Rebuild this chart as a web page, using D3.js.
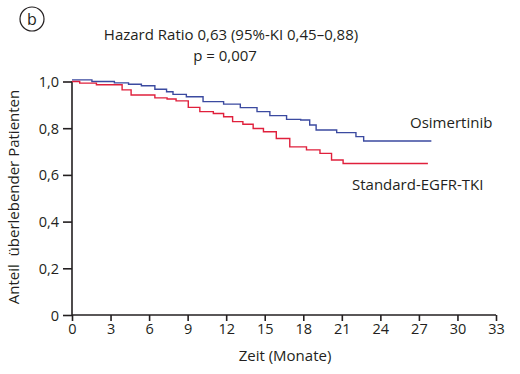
<!DOCTYPE html>
<html>
  <head>
    <meta charset="utf-8">
    <script src="https://d3js.org/d3.v7.min.js"></script>
    <style>
      body { margin: 0; background: #fff; }
      text { font-family: "Open Sans", "Noto Sans", sans-serif; fill: #231f20; }
    </style>
  </head>
  <body>
    <script>
      // Kaplan-Meier step data
      var osiTime = [0, 1.55, 3.3, 4.4, 5.4, 6.45, 7.36, 7.86, 8.9, 10.2, 11.8, 13.1, 14.4, 15.4, 16.7, 17.8, 18.5, 19.0, 20.6, 22.1, 22.7, 27.97];
      var osiSurv = [1.007, 1.0, 0.994, 0.988, 0.982, 0.967, 0.956, 0.945, 0.935, 0.914, 0.903, 0.888, 0.871, 0.854, 0.838, 0.835, 0.814, 0.792, 0.781, 0.764, 0.745, 0.745];
      var stdTime = [0, 0.6, 1.9, 3.9, 4.6, 6.45, 7.4, 8.1, 9.05, 9.95, 11.0, 11.8, 12.5, 13.3, 14.1, 14.9, 15.9, 16.95, 18.25, 19.3, 20.2, 21.1, 27.7];
      var stdSurv = [1.0, 0.993, 0.986, 0.964, 0.942, 0.93, 0.925, 0.917, 0.889, 0.871, 0.863, 0.849, 0.828, 0.817, 0.799, 0.785, 0.756, 0.72, 0.707, 0.692, 0.664, 0.649, 0.649];
      var xTicks = [0, 3, 6, 9, 12, 15, 18, 21, 24, 27, 30, 33];
      var yTicks = [0, 0.2, 0.4, 0.6, 0.8, 1.0];

      var width = 520, height = 374;
      var svg = d3.select("body").append("svg")
          .attr("width", width)
          .attr("height", height);

      var x = d3.scaleLinear().domain([0, 33]).range([72, 496]);
      var y = d3.scaleLinear().domain([0, 1]).range([315, 81.5]);
      var fmt = function(d) { return d === 0 ? "0" : d3.format(".1f")(d).replace(".", ","); };

      // y axis
      var ya = svg.append("g")
          .attr("transform", "translate(72,0)")
          .call(d3.axisLeft(y).tickValues(yTicks).tickSize(9).tickPadding(4).tickFormat(fmt));
      ya.select(".domain").attr("d", "M0," + y(0) + "V" + y(1));
      // x axis
      var xa = svg.append("g")
          .attr("transform", "translate(0,315)")
          .call(d3.axisBottom(x).tickValues(xTicks).tickSize(6).tickPadding(3));
      xa.select(".domain").attr("d", "M" + x(0) + ",0H" + x(33));

      svg.selectAll(".domain, .tick line")
          .attr("stroke", "#231f20")
          .attr("stroke-width", 1.6);
      svg.selectAll(".tick text")
          .attr("font-size", 14.5)
          .attr("font-family", "'Open Sans', sans-serif")
          .attr("fill", "#231f20");
      ya.selectAll(".tick text").attr("dy", "0.35em");

      var line = d3.line()
          .x(function(d) { return x(d[0]); })
          .y(function(d) { return y(d[1]); })
          .curve(d3.curveStepAfter);

      svg.append("path")
          .datum(d3.zip(osiTime, osiSurv))
          .attr("d", line)
          .attr("fill", "none")
          .attr("stroke", "#3b4aa0")
          .attr("stroke-width", 1.4);
      svg.append("path")
          .datum(d3.zip(stdTime, stdSurv))
          .attr("d", line)
          .attr("fill", "none")
          .attr("stroke", "#e0203c")
          .attr("stroke-width", 1.4);

      // labels
      svg.append("text").attr("x", 410).attr("y", 128)
          .attr("font-size", 15).text("Osimertinib");
      svg.append("text").attr("x", 352).attr("y", 190)
          .attr("font-size", 15).text("Standard-EGFR-TKI");

      svg.append("text").attr("x", 231).attr("y", 40)
          .attr("text-anchor", "middle").attr("font-size", 15)
          .text("Hazard Ratio 0,63 (95%-KI 0,45–0,88)");
      svg.append("text").attr("x", 225).attr("y", 61)
          .attr("text-anchor", "middle").attr("font-size", 15)
          .text("p = 0,007");

      svg.append("text").attr("x", 285).attr("y", 361)
          .attr("text-anchor", "middle").attr("font-size", 15)
          .text("Zeit (Monate)");
      svg.append("text")
          .attr("transform", "translate(19,197) rotate(-90)")
          .attr("text-anchor", "middle").attr("font-size", 15)
          .style("white-space", "pre")
          .text("Anteil  überlebender Patienten");

      // panel letter
      svg.append("circle").attr("cx", 32).attr("cy", 19).attr("r", 12)
          .attr("fill", "none").attr("stroke", "#231f20").attr("stroke-width", 1.2);
      svg.append("text").attr("x", 32).attr("y", 24.5)
          .attr("text-anchor", "middle").attr("font-size", 16).text("b");
    </script>
  </body>
</html>
